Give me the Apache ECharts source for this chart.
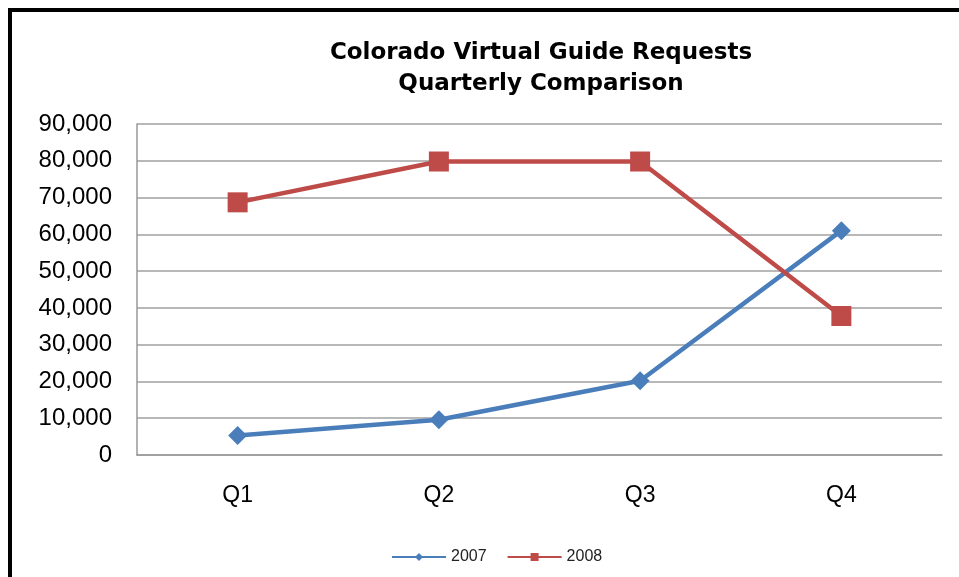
<!DOCTYPE html>
<html>
<head>
<meta charset="utf-8">
<script src="https://cdn.jsdelivr.net/npm/echarts@6/dist/echarts.min.js"></script>
<style>
html,body{margin:0;padding:0;background:#fff;}
#chart{width:959px;height:577px;}
</style>
</head>
<body>
<div id="chart"></div>
<script>
const categories = ['Q1', 'Q2', 'Q3', 'Q4'];
const values2007 = [5300, 9600, 20200, 61000];
const values2008 = [68700, 79800, 79800, 37800];
const seriesNames = ['2007', '2008'];
const titleLines = ['Colorado Virtual Guide Requests', 'Quarterly Comparison'];

const chart = echarts.init(document.getElementById('chart'), null, {renderer: 'canvas'});
chart.setOption({
  animation: false,
  backgroundColor: '#ffffff',
  graphic: [{
    type: 'rect',
    shape: {x: 10, y: 10, width: 1200, height: 1200},
    style: {fill: 'none', stroke: '#000', lineWidth: 4},
    silent: true
  }],
  title: {
    text: titleLines.join('\n'),
    left: 536,
    top: 33,
    textAlign: 'center',
    textStyle: {
      fontFamily: 'DejaVu Sans',
      fontWeight: 'bold',
      fontSize: 23,
      lineHeight: 31,
      color: '#000'
    }
  },
  legend: {
    data: seriesNames,
    left: 386,
    top: 544,
    itemWidth: 54,
    itemHeight: 10,
    itemGap: 20,
    textStyle: {fontFamily: 'Liberation Sans Narrow, Liberation Sans', fontSize: 16, color: '#222'}
  },
  grid: {left: 137, right: 17, top: 124, bottom: 122, containLabel: false},
  xAxis: {
    type: 'category',
    data: categories,
    boundaryGap: true,
    axisLine: {lineStyle: {color: '#999', width: 1.5}},
    axisTick: {show: false},
    axisLabel: {fontFamily: 'Liberation Sans', fontSize: 23, color: '#000', margin: 29}
  },
  yAxis: {
    type: 'value',
    min: 0,
    max: 90000,
    interval: 10000,
    axisLine: {show: true, lineStyle: {color: '#999', width: 1.5}},
    axisTick: {show: false},
    splitLine: {lineStyle: {color: '#a0a0a0', width: 1.5}},
    axisLabel: {
      fontFamily: 'Liberation Sans', fontSize: 24, color: '#000', margin: 25,
      formatter: v => v.toLocaleString('en-US')
    }
  },
  series: [
    {
      name: seriesNames[0],
      type: 'line',
      data: values2007,
      symbol: 'diamond',
      symbolSize: 19,
      lineStyle: {color: '#4A7EBB', width: 4.5},
      itemStyle: {color: '#4A7EBB'}
    },
    {
      name: seriesNames[1],
      type: 'line',
      data: values2008,
      symbol: 'rect',
      symbolSize: 20,
      lineStyle: {color: '#BE4B48', width: 4.5},
      itemStyle: {color: '#BE4B48'}
    }
  ]
});
</script>
</body>
</html>
